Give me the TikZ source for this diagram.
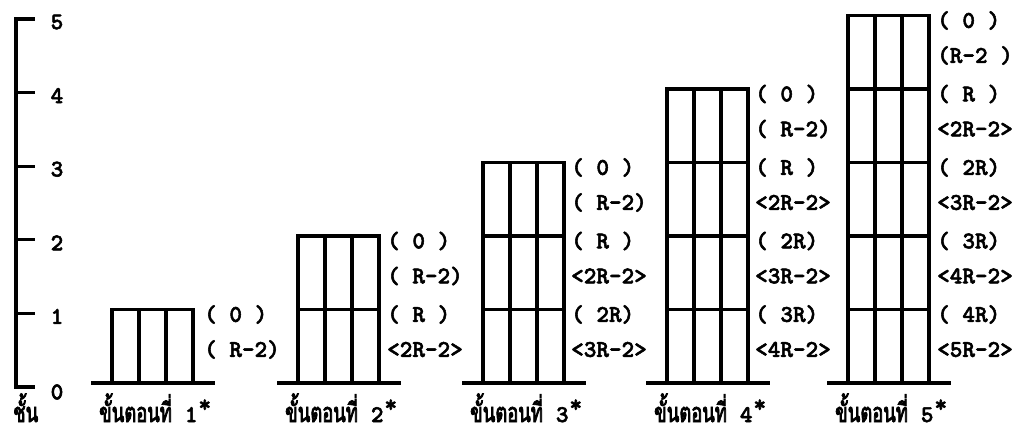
\documentclass[tikz,border=0pt]{standalone}
\usepackage{fontspec}
\newfontfamily\labfont[FakeBold=2.2]{lmmonolt10-bold.otf}
\newfontfamily\thaifont[Script=Thai, FakeStretch=0.68, FakeBold=2.8]{Loma}
\newcommand\steplabels[4]{%
  \foreach \a/\b [count=\i from 0] in {#4}{%
    \node[lbl] (s#1t\i) at (#2, #3+73.5*\i+5) {\a};
    \node[lbl] (s#1m\i) at (#2, #3+73.5*\i+40) {\b};
  }}
\newcommand\capt[1]{{\fontsize{27}{29}\selectfont\thaifont ขั้นตอนที่}\hspace{13pt}{\fontsize{24}{26}\selectfont\labfont #1}\hspace{1pt}\raisebox{10pt}{\fontsize{24}{26}\selectfont\labfont *}}
\begin{document}
\begin{tikzpicture}[x=1pt,y=-1pt,
  tw/.style={line width=3.2pt, line cap=rect},
  lbl/.style={anchor=west, inner sep=0pt, font=\fontsize{24}{26}\selectfont\labfont},
  axlbl/.style={anchor=center, inner sep=0pt, font=\fontsize{24}{26}\selectfont\labfont},
  captxt/.style={anchor=base west, inner sep=0pt}]
\useasboundingbox (0,0) rectangle (1027,435);
% axis
\draw[tw] (33,19) -- (16,19) -- (16,387) -- (33,387);
\foreach \j in {1,2,3,4} \draw[tw] (16,387-73.6*\j) -- (33,387-73.6*\j);
\foreach \j in {1,...,5} \node[axlbl] (ax\j) at (57,390-73.6*\j) {\j};
\node[axlbl] (ax0) at (57,392) {0};
\node[captxt] (axcap) at (13,422) {\fontsize{27}{29}\selectfont\thaifont ชั้น};
% towers
\foreach \k/\L in {1/112,2/298,3/483,4/667,5/848}{
  \pgfmathsetmacro\R{\L+81}
  \pgfmathsetmacro\T{383-73.5*\k}
  \draw[tw] (\L,383) -- (\L,\T) -- (\R,\T) -- (\R,383);
  \draw[tw] (\L+27,383) -- (\L+27,\T);
  \draw[tw] (\L+54,383) -- (\L+54,\T);
  \draw[tw] (\L-19,383) -- (\R+20,383);
  \node[captxt] (cap\k) at (\L-13,422) {\capt{\k}};
}
\draw[tw] (298,309.5) -- (379,309.5);
\foreach \y in {236,309.5} \draw[tw] (483,\y) -- (564,\y);
\foreach \y in {162.5,236,309.5} \draw[tw] (667,\y) -- (748,\y);
\foreach \y in {89,162.5,236,309.5} \draw[tw] (848,\y) -- (929,\y);
% labels
\steplabels{1}{204}{309.5}{{( 0 )}/{( R-2)}}
\steplabels{2}{387}{236}{{( 0 )}/{( R-2)},{( R )}/{<2R-2>}}
\steplabels{3}{571}{162.5}{{( 0 )}/{( R-2)},{( R )}/{<2R-2>},{( 2R)}/{<3R-2>}}
\steplabels{4}{755}{89}{{( 0 )}/{( R-2)},{( R )}/{<2R-2>},{( 2R)}/{<3R-2>},{( 3R)}/{<4R-2>}}
\steplabels{5}{937}{15.5}{{( 0 )}/{(R-2 )},{( R )}/{<2R-2>},{( 2R)}/{<3R-2>},{( 3R)}/{<4R-2>},{( 4R)}/{<5R-2>}}
\end{tikzpicture}
\end{document}
